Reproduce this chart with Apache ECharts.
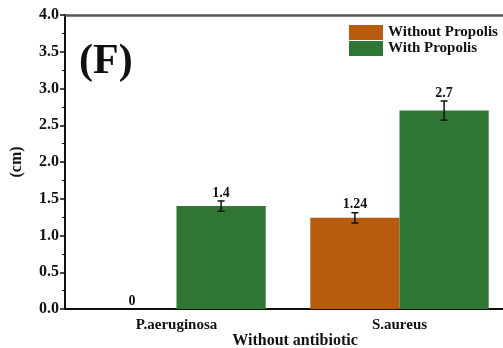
<!DOCTYPE html>
<html><head><meta charset="utf-8">
<script src="https://cdn.jsdelivr.net/npm/echarts@6/dist/echarts.min.js"></script>
<style>html,body{margin:0;padding:0;background:#fff}#c{width:503px;height:348px}</style>
</head><body><div id="c"></div>
<script>
const categories = ['P.aeruginosa', 'S.aureus'];
const seriesNames = ['Without Propolis', 'With Propolis'];
const withoutPropolis = [0, 1.24];
const withoutPropolisErr = [0, 0.07];
const withoutPropolisLabels = ['0', '1.24'];
const withPropolis = [1.4, 2.7];
const withPropolisErr = [0.07, 0.13];
const withPropolisLabels = ['1.4', '2.7'];
const yTicks = ['0.0','0.5','1.0','1.5','2.0','2.5','3.0','3.5','4.0'];

const colors = ['#B85B0F', '#2F7533'];
const FONT = '"Liberation Serif", "Times New Roman", serif';

const chart = echarts.init(document.getElementById('c'), null, {renderer: 'canvas'});

function errData(vals, errs, s) {
  return vals.map((v, i) => [i, v, errs[i], s]);
}

function renderErr(params, api) {
  const cat = api.value(0), v = api.value(1), e = api.value(2), s = api.value(3);
  const band = api.size([1, 0])[0];
  const off = (s === 0 ? -0.2 : 0.2) * band;
  const c = api.coord([cat, v]);
  const x = c[0] + off;
  const top = api.coord([cat, v + e])[1];
  const bot = api.coord([cat, v - e])[1];
  const children = [];
  if (e > 0) {
    const st = {stroke: '#111', lineWidth: 1.5};
    children.push({type: 'line', shape: {x1: x, y1: top, x2: x, y2: bot}, style: st});
    children.push({type: 'line', shape: {x1: x - 3.5, y1: top, x2: x + 3.5, y2: top}, style: st});
    children.push({type: 'line', shape: {x1: x - 3.5, y1: bot, x2: x + 3.5, y2: bot}, style: st});
  }
  const labels = s === 0 ? withoutPropolisLabels : withPropolisLabels;
  children.push({type: 'text', x: x, y: top - 1, style: {
    text: labels[cat], font: 'bold 14px ' + FONT, fill: '#111', align: 'center', verticalAlign: 'bottom'}});
  return {type: 'group', children: children};
}

const option = {
  animation: false,
  textStyle: {fontFamily: FONT},
  title: {text: '(F)', left: 79, top: 41, padding: 0, textStyle: {fontFamily: FONT, fontWeight: 'bold', fontSize: 42, color: '#111'}},
  legend: {
    data: seriesNames, orient: 'vertical', left: 349, top: 25,
    itemWidth: 34, itemHeight: 15, itemGap: 1,
    textStyle: {fontFamily: FONT, fontWeight: 'bold', fontSize: 15, color: '#111', padding: [0, 0, 0, 0]},
    icon: 'rect', padding: 0
  },
  grid: {left: 65, top: 15, width: 446, bottom: 39, containLabel: false, outerBoundsMode: 'none'},
  xAxis: [{
    type: 'category', data: categories,
    name: 'Without antibiotic', nameLocation: 'middle', nameGap: 24, nameMoveOverlap: false,
    nameTextStyle: {fontFamily: FONT, fontWeight: 'bold', fontSize: 16, color: '#111', padding: [0, 0, 0, 14]},
    axisLine: {lineStyle: {color: '#111', width: 2}},
    axisTick: {alignWithLabel: true, length: 4, lineStyle: {color: '#111', width: 1.5}},
    axisLabel: {fontFamily: FONT, fontWeight: 'bold', fontSize: 15, color: '#111', margin: 9}
  }, {
    type: 'category', data: categories, position: 'top',
    axisLine: {show: true, lineStyle: {color: '#555', width: 2.5}},
    axisTick: {show: false}, axisLabel: {show: false}
  }],
  yAxis: {
    type: 'value', min: 0, max: 4, interval: 0.5,
    name: '(cm)', nameLocation: 'middle', nameGap: 40, nameRotate: 90, nameMoveOverlap: false,
    nameTextStyle: {fontFamily: FONT, fontWeight: 'bold', fontSize: 16, color: '#111'},
    axisLine: {show: true, lineStyle: {color: '#111', width: 2}},
    axisTick: {show: true, length: 5, lineStyle: {color: '#111', width: 1.5}},
    minorTick: {show: true, splitNumber: 2, length: 3, lineStyle: {color: '#111', width: 1}},
    splitLine: {show: false},
    axisLabel: {fontFamily: FONT, fontWeight: 'bold', fontSize: 16, color: '#111', margin: 6,
      formatter: (v) => yTicks[Math.round(v / 0.5)]}
  },
  series: [
    {name: seriesNames[0], type: 'bar', data: withoutPropolis, barGap: '0%', barCategoryGap: '20%',
      itemStyle: {color: colors[0]}},
    {name: seriesNames[1], type: 'bar', data: withPropolis, barGap: '0%', barCategoryGap: '20%',
      itemStyle: {color: colors[1]}},
    {type: 'custom', renderItem: renderErr, data: errData(withoutPropolis, withoutPropolisErr, 0), z: 10},
    {type: 'custom', renderItem: renderErr, data: errData(withPropolis, withPropolisErr, 1), z: 10}
  ]
};
chart.setOption(option);
</script></body></html>
